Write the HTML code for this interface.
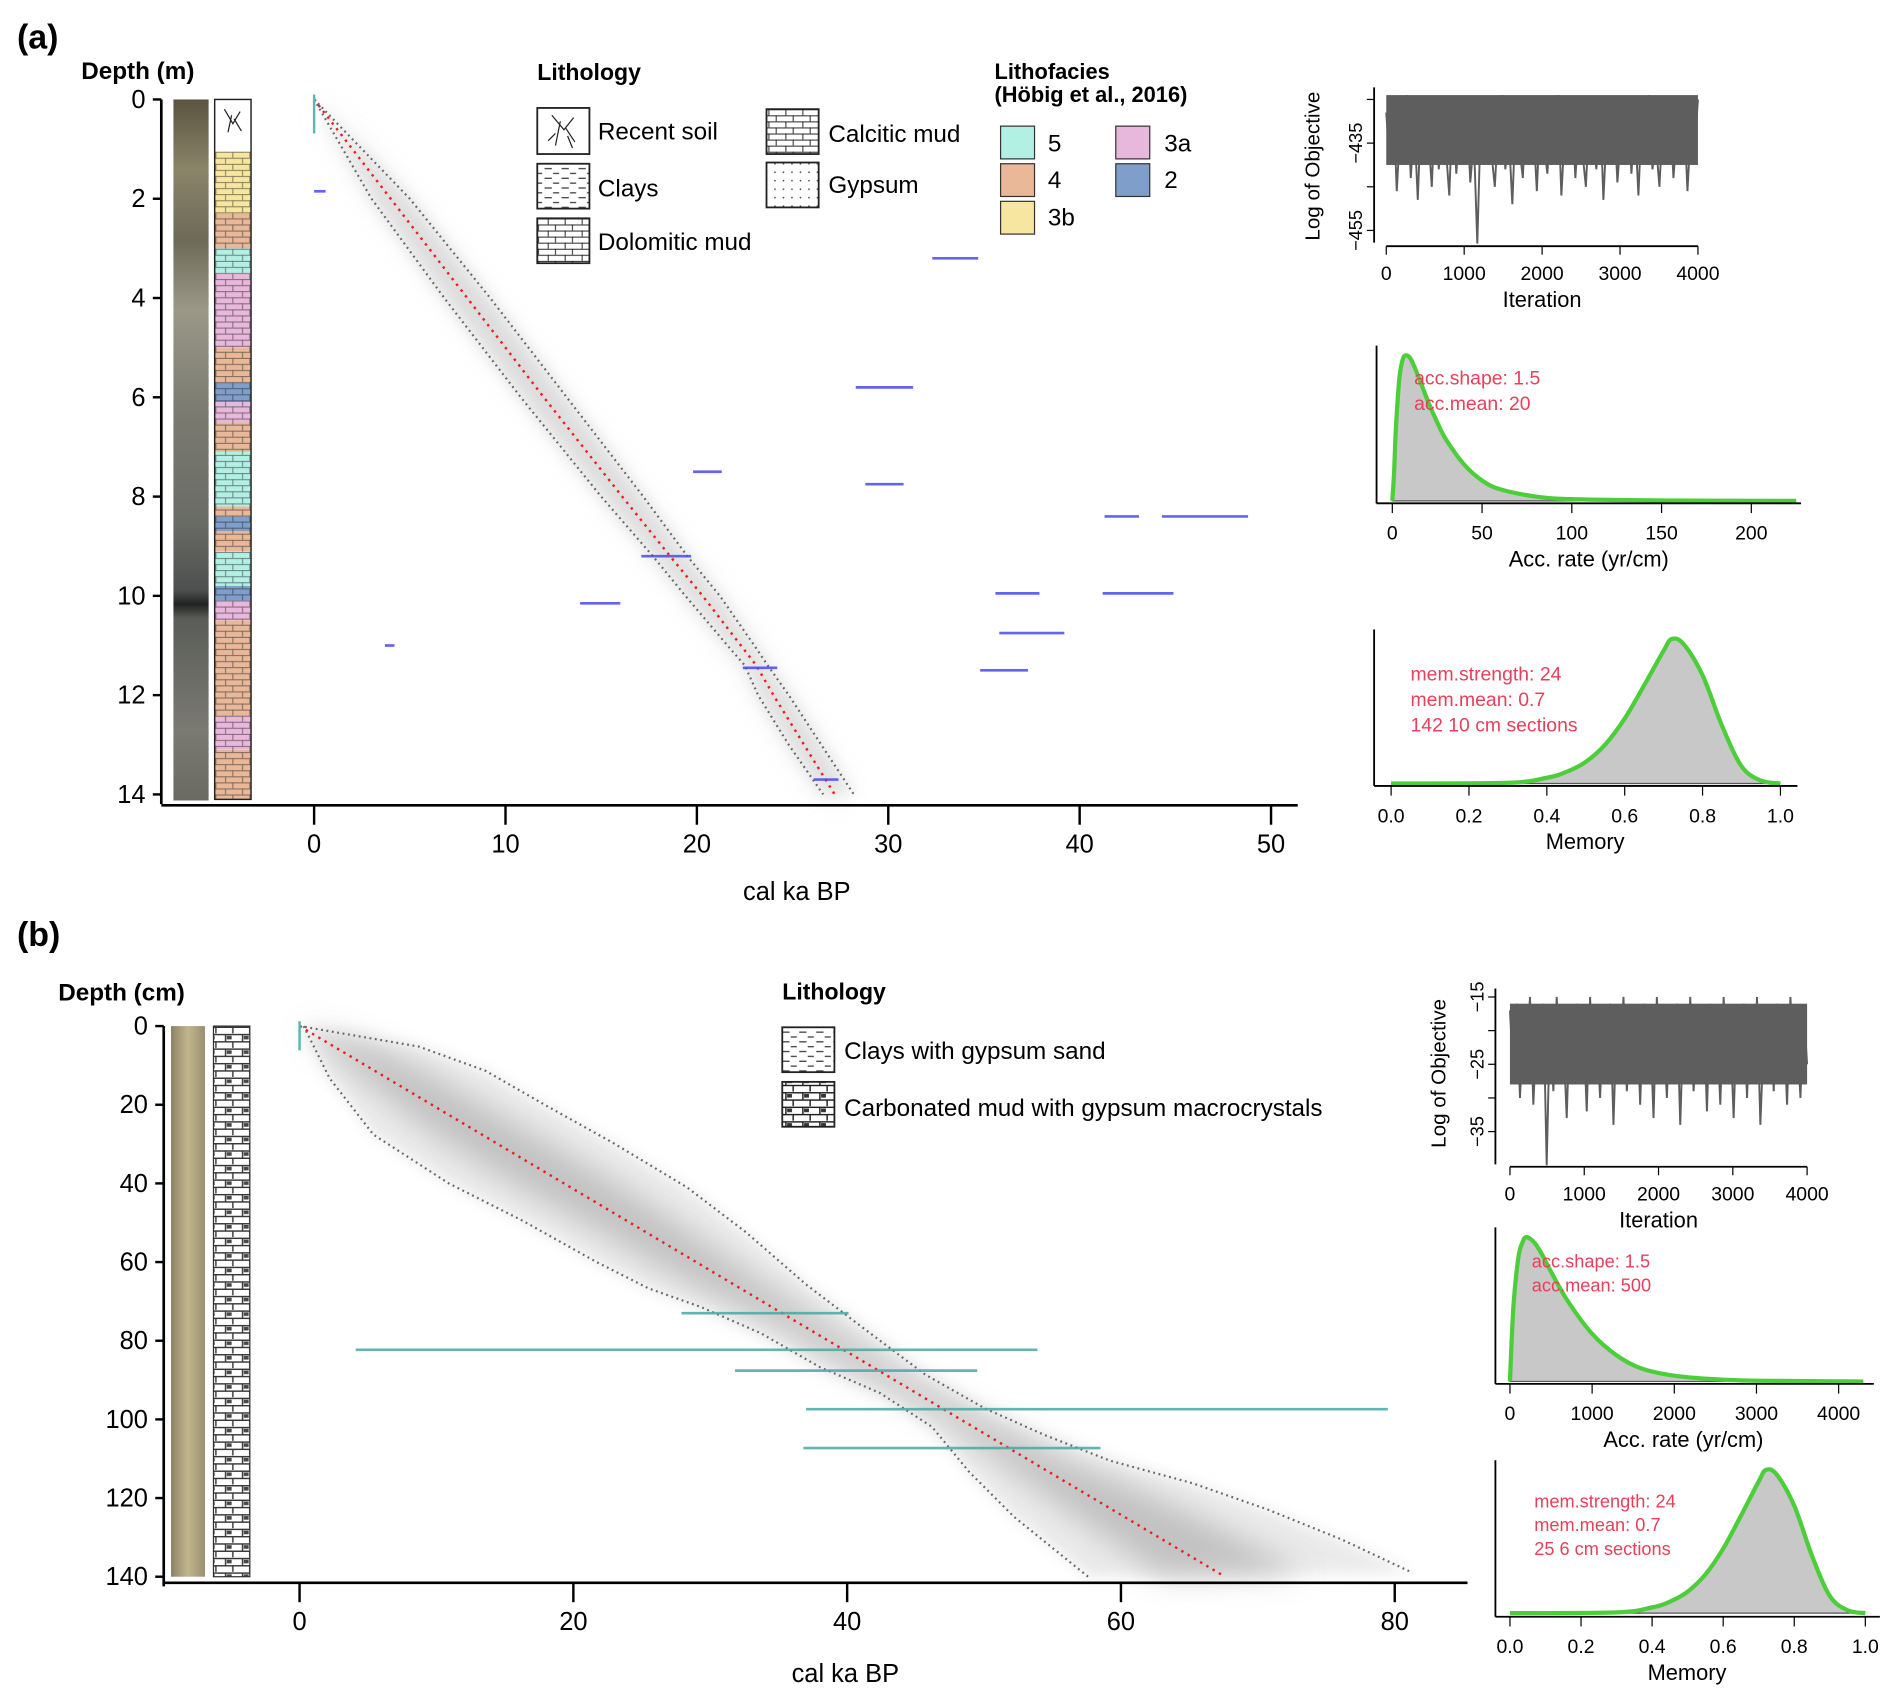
<!DOCTYPE html>
<html><head><meta charset="utf-8"><style>
html,body{margin:0;padding:0;background:#fff;}
svg{display:block;font-family:"Liberation Sans",Arial,sans-serif;}
</style></head><body>
<svg id="fig" width="1892" height="1698" viewBox="0 0 1560 1400" preserveAspectRatio="none" xmlns="http://www.w3.org/2000/svg">
<defs>
<pattern id="dash" width="14" height="8" patternUnits="userSpaceOnUse"><path d="M1 3h6M8 7h5" stroke="#333" stroke-width="1"/></pattern>
<pattern id="brick" width="14" height="10" patternUnits="userSpaceOnUse"><path d="M0 0.5h14M0 5.5h14M4 0v5M10 5v5" stroke="#222" stroke-width="0.8" fill="none"/></pattern>
<pattern id="brickB" width="14" height="12" patternUnits="userSpaceOnUse"><path d="M0 1h14M0 7h14M4 1v6M10 7v5" stroke="#222" stroke-width="1.2" fill="none"/><rect x="5" y="2" width="4" height="3" fill="#333"/></pattern>
<pattern id="dots" width="7" height="7" patternUnits="userSpaceOnUse"><circle cx="2" cy="2" r="0.7" fill="#333"/></pattern>
<linearGradient id="coreA" x1="0" y1="0" x2="0" y2="1">
<stop offset="0" stop-color="#5a5440"/><stop offset="0.1" stop-color="#8a8468"/><stop offset="0.2" stop-color="#6e6a58"/><stop offset="0.3" stop-color="#9a9888"/><stop offset="0.45" stop-color="#7a7a70"/><stop offset="0.6" stop-color="#6a6c66"/><stop offset="0.7" stop-color="#4e5050"/><stop offset="0.72" stop-color="#222"/><stop offset="0.74" stop-color="#5a5c58"/><stop offset="0.9" stop-color="#7a7a72"/><stop offset="1" stop-color="#6a6a62"/></linearGradient>
<linearGradient id="coreB" x1="0" y1="0" x2="1" y2="0"><stop offset="0" stop-color="#8c8264"/><stop offset="0.5" stop-color="#c2b68e"/><stop offset="1" stop-color="#9a8f70"/></linearGradient>
<filter id="blur"><feGaussianBlur stdDeviation="6"/></filter>
<filter id="blur2"><feGaussianBlur stdDeviation="12"/></filter>
</defs>

<text x="14" y="40" font-size="28" font-weight="bold">(a)</text>
<text x="14" y="780" font-size="28" font-weight="bold">(b)</text>
<text x="67" y="65" font-size="20" font-weight="bold">Depth (m)</text>
<text x="48" y="825" font-size="20" font-weight="bold">Depth (cm)</text>

<rect x="143" y="82" width="29" height="578" fill="url(#coreA)"/>
<g id="lithoA"></g>
<rect x="141" y="846" width="28" height="454" fill="url(#coreB)"/>
<rect x="176" y="846" width="30" height="454" fill="#fff" stroke="#333"/>
<rect x="176" y="846" width="30" height="454" fill="url(#brickB)" opacity="0.9"/>

<g font-size="20">
<text x="443" y="66" font-weight="bold" font-size="19">Lithology</text>
<rect x="443" y="89" width="43" height="38" fill="#fff" stroke="#222" stroke-width="1.5"/><path d="M455 95l10 12l8-10M462 100l-4 20M466 105l8 12M458 110l-6 6M468 112l4 10" stroke="#222" fill="none"/>
<text x="493" y="115">Recent soil</text>
<rect x="443" y="135" width="43" height="37" fill="url(#dash)" stroke="#222" stroke-width="1.5"/><text x="493" y="162">Clays</text>
<rect x="443" y="180" width="43" height="37" fill="url(#brick)" stroke="#222" stroke-width="1.5"/><text x="493" y="206">Dolomitic mud</text>
<rect x="632" y="90" width="43" height="37" fill="url(#brick)" stroke="#222" stroke-width="1.5"/><text x="683" y="117">Calcitic mud</text>
<rect x="632" y="134" width="43" height="37" fill="url(#dots)" stroke="#222" stroke-width="1.5"/><text x="683" y="159">Gypsum</text>
</g>
<g font-size="20">
<text x="820" y="65" font-weight="bold" font-size="18">Lithofacies</text>
<text x="820" y="84" font-weight="bold" font-size="18">(Höbig et al., 2016)</text>
<rect x="825" y="104" width="28" height="27" fill="#b3f0e4" stroke="#333"/><text x="864" y="125">5</text>
<rect x="825" y="135" width="28" height="27" fill="#e8b899" stroke="#333"/><text x="864" y="155">4</text>
<rect x="825" y="166" width="28" height="27" fill="#f6e6a0" stroke="#333"/><text x="864" y="186">3b</text>
<rect x="920" y="104" width="28" height="27" fill="#e8b7dc" stroke="#333"/><text x="960" y="125">3a</text>
<rect x="920" y="135" width="28" height="27" fill="#7f9fca" stroke="#333"/><text x="960" y="155">2</text>
</g>
<g font-size="20">
<text x="645" y="824" font-weight="bold" font-size="19">Lithology</text>
<rect x="645" y="847" width="43" height="37" fill="url(#dash)" stroke="#222" stroke-width="1.5"/><text x="696" y="873">Clays with gypsum sand</text>
<rect x="645" y="892" width="43" height="37" fill="url(#brickB)" stroke="#222" stroke-width="1.5"/><text x="696" y="920">Carbonated mud with gypsum macrocrystals</text>
</g>

<g id="mainA"></g>
<g id="mainB"></g>
<g id="side"></g>
</svg>
<script>
const NS="http://www.w3.org/2000/svg";
function el(tag,attrs,parent,txt){const e=document.createElementNS(NS,tag);for(const k in attrs)e.setAttribute(k,attrs[k]);if(txt!==undefined)e.textContent=txt;parent.appendChild(e);return e;}

// ---- Panel A data ----
const depthTicksA=[0,2,4,6,8,10,12,14];
const ageTicksA=[0,10,20,30,40,50];
const envDepthA=[0,2,4,6,8,9.2,10,11,11.4,12,13,14];
const envLoA=[0,3.0,6.8,10.8,15.0,17.7,19.4,21.6,22.5,23.2,24.8,26.6];
const envHiA=[0,5.0,9.2,13.2,17.2,19.5,21.2,23.0,23.7,24.8,26.5,28.2];
const meanDepthA=[0,2,4,6,8,9.2,10,11,11.4,12,13,14];
const meanAgeA=[0,4,8,12,16.1,18.6,20.3,22.3,23.1,24,25.6,27.2];
const dateDepthA=[1.85,3.2,5.8,7.5,7.75,8.4,8.4,9.2,9.95,9.95,10.15,10.75,11.0,11.45,11.5,13.7];
const dateMinA=[0.0,32.3,28.3,19.8,28.8,41.3,44.3,17.1,35.6,41.2,13.9,35.8,3.7,22.4,34.8,26.1];
const dateMaxA=[0.6,34.7,31.3,21.3,30.8,43.1,48.8,19.7,37.9,44.9,16.0,39.2,4.2,24.2,37.3,27.4];
const faciesTop=[0,1.05,2.3,3.0,3.5,5.0,5.7,6.1,6.5,7.1,8.2,8.4,8.7,9.1,9.8,10.1,10.5,12.4,13.1];
const faciesBot=[1.05,2.3,3.0,3.5,5.0,5.7,6.1,6.5,7.1,8.2,8.4,8.7,9.1,9.8,10.1,10.5,12.4,13.1,14.1];
const faciesCol=["#fff","#f6e6a0","#e8b899","#b3f0e4","#e8b7dc","#e8b899","#7f9fca","#e8b7dc","#e8b899","#b3f0e4","#e8b899","#7f9fca","#e8b899","#b3f0e4","#7f9fca","#e8b7dc","#e8b899","#e8b7dc","#e8b899"];

// ---- Panel B data ----
const depthTicksB=[0,20,40,60,80,100,120,140];
const ageTicksB=[0,20,40,60,80];
const hiDepthB=[0,5.2,11.4,20,29.5,41,52.4,65.7,77.1,88.6,97.1,103.8,110.5,116.2,122.9,130.5,139];
const hiAgeB=[0,8.7,13.6,17.9,22.8,28.3,32.6,37,41.3,45.7,50,54.3,59.2,65.2,70.7,76.1,81.3];
const loDepthB=[0,13.3,27.6,40,49.5,60,66.7,71.4,78.1,86.7,93.3,101.9,113.3,124.8,140];
const loAgeB=[0.3,2.2,5.4,10.9,16.3,21.7,25.5,29.3,33.7,38,42.4,46.2,48.9,52.2,57.6];
const meanDepthB=[0,140];
const meanAgeB=[0,67.6];
const dateDepthB=[73,82.3,87.6,97.4,107.3];
const dateMinB=[27.9,4.1,31.8,37,36.8];
const dateMaxB=[40.1,53.9,49.5,79.5,58.5];

// ---- Diagnostics data ----
const iterTicks=[0,1000,2000,3000,4000];
const traceA=[-428,-440,-425,-446,-431,-437,-424,-443,-430,-448,-427,-439,-433,-445,-426,-441,-429,-436,-447,-425,-442,-431,-438,-427,-444,-434,-458,-429,-440,-426,-437,-445,-430,-424,-441,-433,-449,-428,-436,-443,-425,-439,-431,-446,-427,-435,-442,-429,-438,-424,-447,-432,-440,-426,-443,-430,-437,-445,-428,-434,-441,-425,-448,-431,-439,-427,-444,-433,-436,-426,-442,-430,-447,-428,-438,-424,-441,-435,-445,-429,-437,-426,-443,-432,-440,-427,-446,-431,-436,-425];
const traceB=[-17,-27,-16,-30,-19,-24,-15,-31,-20,-26,-16,-40,-18,-29,-15,-25,-21,-33,-17,-28,-16,-23,-19,-32,-15,-27,-20,-30,-17,-25,-16,-34,-18,-26,-15,-29,-21,-24,-17,-31,-16,-28,-19,-33,-15,-26,-20,-30,-17,-25,-16,-34,-18,-27,-15,-29,-21,-24,-17,-32,-16,-28,-19,-31,-15,-26,-20,-33,-17,-25,-16,-30,-18,-27,-15,-34,-21,-24,-17,-29,-16,-28,-19,-31,-15,-26,-20,-30,-17,-25];
const accTicksA=[0,50,100,150,200];
const accXA=[0,1,2,4,6,8,10,12,15,20,25,30,40,50,60,80,100,150,225];
const accYA=[0,0.2,0.5,0.85,0.98,1,0.98,0.93,0.84,0.68,0.54,0.42,0.25,0.14,0.08,0.03,0.012,0.003,0];
const accTicksB=[0,1000,2000,3000,4000];
const accXB=[0,40,100,150,200,300,400,500,700,1000,1300,1600,2000,2500,3000,4300];
const accYB=[0,0.5,0.85,0.96,1,0.96,0.87,0.76,0.56,0.33,0.18,0.09,0.04,0.015,0.005,0];
const memTicks=[0,0.2,0.4,0.6,0.8,1.0];
const memX=[0,0.3,0.4,0.45,0.5,0.55,0.6,0.65,0.7,0.72,0.75,0.8,0.85,0.9,0.95,1];
const memY=[0,0.005,0.04,0.08,0.15,0.27,0.45,0.68,0.92,1,0.97,0.75,0.4,0.12,0.02,0];

function lin(d0,d1,r0,r1){return v=>r0+(v-d0)/(d1-d0)*(r1-r0);}
function smooth(p){let d="M"+p[0][0]+","+p[0][1];for(let i=0;i<p.length-1;i++){const p0=p[Math.max(0,i-1)],p1=p[i],p2=p[i+1],p3=p[Math.min(p.length-1,i+2)];d+=" C"+(p1[0]+(p2[0]-p0[0])/6)+","+(p1[1]+(p2[1]-p0[1])/6)+" "+(p2[0]-(p3[0]-p1[0])/6)+","+(p2[1]-(p3[1]-p1[1])/6)+" "+p2[0]+","+p2[1];}return d;}
function interp(xa,ya,x){for(let i=0;i<xa.length-1;i++){if(x<=xa[i+1]){const t=(x-xa[i])/(xa[i+1]-xa[i]||1);return ya[i]+t*(ya[i+1]-ya[i]);}}return ya[ya.length-1];}

const gL=document.getElementById('lithoA');
const dA=lin(0,14,82,655);
faciesTop.forEach((t,i)=>{
  const r=el('rect',{x:177,y:dA(t),width:30,height:dA(faciesBot[i])-dA(t),fill:faciesCol[i]},gL);
  
  
  if(i>0)el('rect',{x:177,y:dA(t),width:30,height:dA(faciesBot[i])-dA(t),fill:"url(#brick)",opacity:0.55},gL);
});
el('rect',{x:177,y:82,width:30,height:dA(14.1)-82,fill:"none",stroke:"#222","stroke-width":1.2},gL);
el('path',{d:"M185 90l7 12l6-10M191 95l-3 14M193 98l6 10",stroke:"#222",fill:"none"},gL);

function mainPlot(g,o){
  const xs=lin(o.ax0,o.ax1,o.px0,o.px1), ys=lin(o.dy0,o.dy1,o.py0,o.py1);
  let pts=o.hiD.map((d,i)=>xs(o.hiA[i])+","+ys(d));
  for(let i=o.loD.length-1;i>=0;i--)pts.push(xs(o.loA[i])+","+ys(o.loD[i]));
  const sh=el('polygon',{points:pts.join(" "),fill:"#e2e2e2",opacity:o.shOp,filter:"url(#blur)"},g);
  
  
  let mp=o.hiD.map((d,i)=>{const m0=interp(o.mD,o.mA,d);const h0=o.hiA[i];return xs(m0+(h0-m0)*0.45)+","+ys(d);});
  for(let i=o.loD.length-1;i>=0;i--){const d=o.loD[i];const m0=interp(o.mD,o.mA,d);const l0=o.loA[i];mp.push(xs(m0-(m0-l0)*0.45)+","+ys(d));}
  const core=el('polygon',{points:mp.join(" "),fill:"#b8b8b8",opacity:o.coreOp,filter:"url(#blur2)"},g);
  
  
  const hi=el('polyline',{points:o.hiD.map((d,i)=>xs(o.hiA[i])+","+ys(d)).join(" "),fill:"none",stroke:"#666","stroke-width":1.8,"stroke-dasharray":"1.5 3"},g);
  
  
  const lo=el('polyline',{points:o.loD.map((d,i)=>xs(o.loA[i])+","+ys(d)).join(" "),fill:"none",stroke:"#666","stroke-width":1.8,"stroke-dasharray":"1.5 3"},g);
  
  
  const m=el('polyline',{points:o.mD.map((d,i)=>xs(o.mA[i])+","+ys(d)).join(" "),fill:"none",stroke:"#ee1c1c","stroke-width":2,"stroke-dasharray":"2 4"},g);
  
  
  o.dD.forEach((d,i)=>{
    const b=el('line',{x1:xs(o.dMin[i]),y1:ys(d),x2:xs(o.dMax[i]),y2:ys(d),stroke:o.dCol,"stroke-width":2.2,opacity:0.85},g);
    
    
  });
  el('line',{x1:xs(0),y1:ys(0)-4,x2:xs(0),y2:ys(0)+o.tealLen,stroke:"#5bb8b0","stroke-width":2},g);
  el('line',{x1:o.yAxX,y1:o.py0,x2:o.yAxX,y2:o.py1+8,stroke:"#000","stroke-width":2.2},g);
  el('line',{x1:o.yAxX,y1:o.xAxY,x2:o.xAxEnd,y2:o.xAxY,stroke:"#000","stroke-width":2.2},g);
  o.dt.forEach(t=>{
    el('line',{x1:o.yAxX-7,y1:ys(t),x2:o.yAxX,y2:ys(t),stroke:"#000","stroke-width":2},g);
    const l=el('text',{x:o.yAxX-13,y:ys(t)+7,"text-anchor":"end","font-size":21},g,t);
    
    
  });
  o.at.forEach(t=>{
    el('line',{x1:xs(t),y1:o.xAxY,x2:xs(t),y2:o.xAxY+16,stroke:"#000","stroke-width":2},g);
    const l=el('text',{x:xs(t),y:o.xAxY+39,"text-anchor":"middle","font-size":21},g,t);
    
    
  });
  const tt=el('text',{x:o.titleX,y:o.titleY,"text-anchor":"middle","font-size":21},g,"cal ka BP");
  
  
}
mainPlot(document.getElementById('mainA'),{ax0:0,ax1:50,px0:259,px1:1048,dy0:0,dy1:14,py0:82,py1:655,
 hiD:envDepthA,hiA:envHiA,loD:envDepthA,loA:envLoA,mD:meanDepthA,mA:meanAgeA,shOp:0.7,coreOp:0.6,
 dD:dateDepthA,dMin:dateMinA,dMax:dateMaxA,dCol:"#4a4af0",tealLen:28,
 yAxX:133,xAxY:664,xAxEnd:1070,dt:depthTicksA,at:ageTicksA,titleX:657,titleY:742});
mainPlot(document.getElementById('mainB'),{ax0:0,ax1:80,px0:247,px1:1150,dy0:0,dy1:140,py0:846,py1:1300,
 hiD:hiDepthB,hiA:hiAgeB,loD:loDepthB,loA:loAgeB,mD:meanDepthB,mA:meanAgeB,shOp:0.7,coreOp:0.8,
 dD:dateDepthB,dMin:dateMinB,dMax:dateMaxB,dCol:"#4aa8a4",tealLen:20,
 yAxX:135,xAxY:1305,xAxEnd:1210,dt:depthTicksB,at:ageTicksB,titleX:697,titleY:1387});

const gS=document.getElementById('side');
function tracePlot(o){
  const xs=lin(0,4000,o.x0,o.x1), ys=lin(o.v0,o.v1,o.y0,o.y1);
  const n=o.vals.length;
  el('rect',{x:o.x0,y:ys(o.bandTop),width:o.x1-o.x0,height:ys(o.bandBot)-ys(o.bandTop),fill:"#5e5e5e"},gS);
  const p=el('polyline',{points:o.vals.map((v,i)=>xs(i*4000/(n-1))+","+ys(v)).join(" "),fill:"none",stroke:"#5e5e5e","stroke-width":1.6},gS);
  
  
  el('line',{x1:o.axX,y1:o.axTop,x2:o.axX,y2:o.axBot,stroke:"#000","stroke-width":1.5},gS);
  o.yt.forEach(t=>{el('line',{x1:o.axX-6,y1:ys(t),x2:o.axX,y2:ys(t),stroke:"#000"},gS);});
  o.ytl.forEach(t=>{
    el('text',{x:o.axX-10,y:ys(t),"text-anchor":"middle","font-size":15,transform:`rotate(-90 ${o.axX-10} ${ys(t)})`},gS,"−"+Math.abs(t));
  });
  el('line',{x1:xs(0),y1:o.xAxY,x2:xs(4000),y2:o.xAxY,stroke:"#000","stroke-width":1.5},gS);
  iterTicks.forEach(t=>{
    el('line',{x1:xs(t),y1:o.xAxY,x2:xs(t),y2:o.xAxY+7,stroke:"#000"},gS);
    el('text',{x:xs(t),y:o.xAxY+28,"text-anchor":"middle","font-size":16},gS,t);
  });
  el('text',{x:(o.x0+o.x1)/2,y:o.xAxY+50,"text-anchor":"middle","font-size":18},gS,"Iteration");
  el('text',{x:o.labX,y:o.labY,"text-anchor":"middle","font-size":17,transform:`rotate(-90 ${o.labX} ${o.labY})`},gS,"Log of Objective");
}
tracePlot({vals:traceA,x0:1143,x1:1400,v0:-435,v1:-455,y0:118,y1:190,bandTop:-424,bandBot:-440,yt:[-425,-435,-445,-455],ytl:[-435,-455],axX:1133,axTop:72,axBot:200,xAxY:203,labX:1088,labY:137});
tracePlot({vals:traceB,x0:1245,x1:1490,v0:-15,v1:-35,y0:822,y1:933,bandTop:-16,bandBot:-28,yt:[-15,-20,-25,-30,-35],ytl:[-15,-25,-35],axX:1233,axTop:815,axBot:960,xAxY:962,labX:1192,labY:885});

function densPlot(o){
  const xs=lin(o.d0,o.d1,o.x0,o.x1), ys=v=>o.base-v*(o.base-o.top);
  const pts=o.xv.map((x,i)=>[xs(x),ys(o.yv[i])]);
  const sp=smooth(pts);
  const f=el('path',{d:sp+" L"+xs(o.xv[o.xv.length-1])+","+o.base+" L"+xs(o.xv[0])+","+o.base+" Z",fill:"#c8c8c8",stroke:"#555","stroke-width":1},gS);
  
  
  const l=el('path',{d:sp,fill:"none",stroke:"#4cce3a","stroke-width":3.5},gS);
  
  
  el('line',{x1:o.axX,y1:o.top-8,x2:o.axX,y2:o.xAxY,stroke:"#000","stroke-width":1.5},gS);
  el('line',{x1:o.axX,y1:o.xAxY,x2:o.xEnd,y2:o.xAxY,stroke:"#000","stroke-width":1.5},gS);
  o.ticks.forEach(t=>{
    el('line',{x1:xs(t),y1:o.xAxY,x2:xs(t),y2:o.xAxY+8,stroke:"#000"},gS);
    el('text',{x:xs(t),y:o.xAxY+30,"text-anchor":"middle","font-size":16},gS,o.fmt?t.toFixed(1):t);
  });
  el('text',{x:o.titleX,y:o.xAxY+52,"text-anchor":"middle","font-size":18},gS,o.title);
  o.notes.forEach((n,i)=>el('text',{x:o.nx,y:o.ny+i*o.nd,"font-size":o.nfs,fill:"#e8405a"},gS,n));
}
densPlot({d0:0,d1:200,x0:1148,x1:1444,xv:accXA,yv:accYA,base:413,top:293,axX:1135,xAxY:415,xEnd:1485,ticks:accTicksA,title:"Acc. rate (yr/cm)",titleX:1310,notes:["acc.shape:  1.5","acc.mean:  20"],nx:1166,ny:317,nd:21,nfs:16});
densPlot({d0:0,d1:1,x0:1147,x1:1468,xv:memX,yv:memY,base:646,top:527,axX:1133,xAxY:648,xEnd:1482,ticks:memTicks,fmt:1,title:"Memory",titleX:1307,notes:["mem.strength: 24","mem.mean: 0.7","142 10 cm sections"],nx:1163,ny:561,nd:21,nfs:16});
densPlot({d0:0,d1:4000,x0:1245,x1:1516,xv:accXB,yv:accYB,base:1139,top:1020,axX:1233,xAxY:1141,xEnd:1545,ticks:accTicksB,title:"Acc. rate (yr/cm)",titleX:1388,notes:["acc.shape:  1.5","acc.mean:  500"],nx:1263,ny:1045,nd:20,nfs:15});
densPlot({d0:0,d1:1,x0:1245,x1:1538,xv:memX,yv:memY,base:1330,top:1212,axX:1233,xAxY:1333,xEnd:1550,ticks:memTicks,fmt:1,title:"Memory",titleX:1391,notes:["mem.strength: 24","mem.mean: 0.7","25 6 cm sections"],nx:1265,ny:1243,nd:19.5,nfs:15});
</script>
</body></html>
